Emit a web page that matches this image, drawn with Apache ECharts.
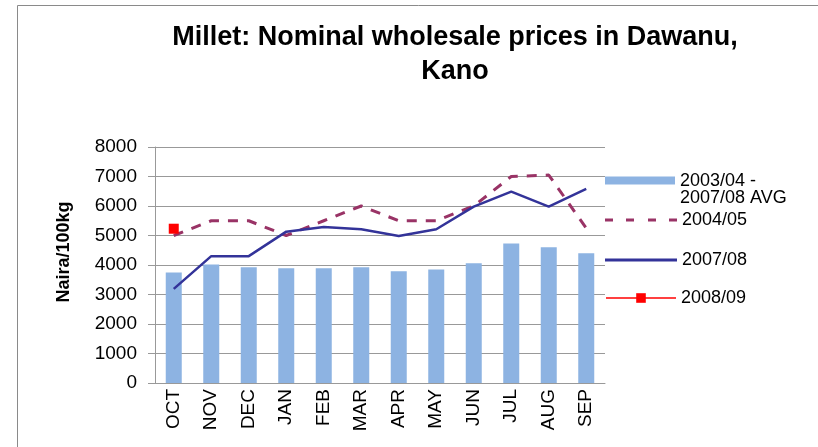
<!DOCTYPE html>
<html>
<head>
<meta charset="utf-8">
<script src="https://cdn.jsdelivr.net/npm/echarts@6/dist/echarts.min.js"></script>
<style>
  html, body { margin: 0; padding: 0; background: #fff; }
  #main { width: 818px; height: 447px; }
</style>
</head>
<body>
<div id="main"></div>
<script>
var months = ['OCT', 'NOV', 'DEC', 'JAN', 'FEB', 'MAR', 'APR', 'MAY', 'JUN', 'JUL', 'AUG', 'SEP'];
var avg0308 = [3750, 4020, 3920, 3890, 3890, 3920, 3790, 3850, 4060, 4730, 4600, 4400];
var y0405 = [5000, 5500, 5500, 5000, 5500, 6000, 5500, 5500, 6000, 7000, 7050, 5250];
var y0708 = [3190, 4300, 4300, 5130, 5290, 5210, 4980, 5210, 5980, 6490, 5980, 6580];
var y0809 = [5230, null, null, null, null, null, null, null, null, null, null, null];
var yTicks = { min: 0, max: 8000, step: 1000 };

var chart = echarts.init(document.getElementById('main'));
var font = 'Liberation Sans, Arial, sans-serif';

function legendAt(name, top, extra) {
    var l = {
        data: [name],
        orient: 'vertical',
        left: 605,
        top: top,
        itemWidth: 70,
        itemHeight: 12,
        itemGap: 0,
        padding: 0,
        textStyle: { fontFamily: font, fontSize: 18, color: '#000', lineHeight: 17 }
    };
    for (var k in extra) l[k] = extra[k];
    return l;
}

var option = {
    backgroundColor: '#fff',
    animation: false,
    title: {
        text: 'Millet: Nominal wholesale prices in Dawanu,\nKano',
        left: 455,
        top: 21,
        padding: 0,
        textAlign: 'center',
        textStyle: { fontFamily: font, fontSize: 27, fontWeight: 'bold', color: '#000', lineHeight: 34 }
    },
    graphic: [{
        type: 'rect',
        shape: { x: 17.5, y: 5.5, width: 900, height: 600 },
        style: { fill: 'none', stroke: '#8a8a8a', lineWidth: 1 },
        silent: true
    }],
    legend: [
        legendAt('2003/04 - 2007/08 AVG', 172, {
            data: [{ name: '2003/04 - 2007/08 AVG', icon: 'path://M0,0L70,0M0,4L70,4L70,12L0,12ZM0,34L70,34' }],
            itemHeight: 34,
            formatter: function () { return '2003/04 -\n2007/08 AVG'; }
        }),
        legendAt('2004/05', 211, {
            data: [{ name: '2004/05', icon: 'path://M0,0L8,0L8,3L0,3ZM21,0L29,0L29,3L21,3ZM43,0L51,0L51,3L43,3ZM64,0L72,0L72,3L64,3Z' }],
            itemWidth: 72,
            itemHeight: 3
        }),
        legendAt('2007/08', 251, {
            data: [{ name: '2007/08', icon: 'path://M0,0L72,0L72,3L0,3Z' }],
            itemWidth: 72,
            itemHeight: 3
        }),
        legendAt('2008/09', 289)
    ],
    grid: { left: 155, right: 213, top: 147, bottom: 64 },
    xAxis: {
        type: 'category',
        data: months,
        axisLine: { lineStyle: { color: '#999', width: 1 } },
        axisTick: { show: false },
        axisLabel: { rotate: 90, margin: 6, fontFamily: font, fontSize: 19, color: '#000', interval: 0 }
    },
    yAxis: {
        type: 'value',
        min: yTicks.min,
        max: yTicks.max,
        interval: yTicks.step,
        name: 'Naira/100kg',
        nameLocation: 'middle',
        nameRotate: 90,
        nameGap: 82,
        nameTextStyle: { fontFamily: font, fontSize: 18, fontWeight: 'bold', color: '#000', padding: [0, 0, 0, 26] },
        axisLine: { show: true, lineStyle: { color: '#999' } },
        axisTick: { show: true, length: 7, lineStyle: { color: '#999' } },
        axisLabel: {
            fontFamily: font, fontSize: 19, color: '#000', margin: 18,
            formatter: function (v) { return String(v); }
        },
        splitLine: { lineStyle: { color: '#999', width: 1 } }
    },
    series: [
        {
            name: '2003/04 - 2007/08 AVG',
            type: 'bar',
            data: avg0308,
            barWidth: 16,
            itemStyle: { color: '#8db3e2' }
        },
        {
            name: '2004/05',
            type: 'line',
            data: y0405,
            symbol: 'none',
            color: '#993366',
            lineStyle: { color: '#993366', width: 3, type: [10, 9] }
        },
        {
            name: '2007/08',
            type: 'line',
            data: y0708,
            symbol: 'none',
            color: '#333399',
            lineStyle: { color: '#333399', width: 2.5 }
        },
        {
            name: '2008/09',
            type: 'line',
            data: y0809,
            symbol: 'rect',
            symbolSize: 10,
            showSymbol: true,
            color: '#ff0000',
            itemStyle: { color: '#ff0000' },
            lineStyle: { color: '#ff4040', width: 1.5 }
        }
    ]
};

chart.setOption(option);
</script>
</body>
</html>
